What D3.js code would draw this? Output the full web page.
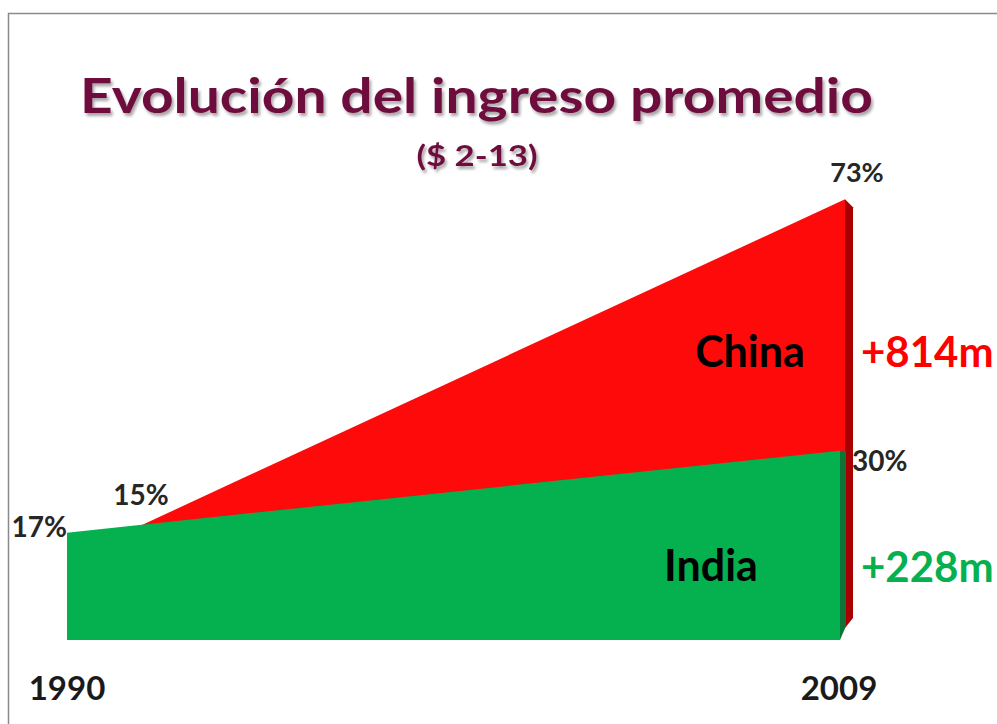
<!DOCTYPE html>
<html>
<head>
<meta charset="utf-8">
<script src="https://cdn.jsdelivr.net/npm/d3@7"></script>
<style>
  html, body { margin: 0; padding: 0; background: #fff; }
  svg { display: block; }
  text { font-family: Lato, "Open Sans", sans-serif; font-weight: bold; }
</style>
</head>
<body>
<svg id="chart" width="997" height="724"></svg>
<script>
// ---- data ----
const years = [1990, 2009];
const chinaValues = [15, 73];   // % (rear series)
const indiaValues = [17, 30];   // % (front series)
const seriesNames = ["China", "India"];
const growthLabels = ["+814m", "+228m"];
const titleText = "Evolución del ingreso promedio";
const subtitleText = "($ 2-13)";

const svg = d3.select("#chart");

// frame
svg.append("path")
  .attr("d", "M8.5,724 L8.5,13.5 L997,13.5")
  .attr("fill", "none").attr("stroke", "#8a8a8a").attr("stroke-width", 1.5);

// scales (front row and rear row of the 3D area chart)
const xFront = d3.scaleLinear().domain(d3.extent(years)).range([67, 840]);
const xBack  = d3.scaleLinear().domain(d3.extent(years)).range([72, 845]);
const yFront = d3.scaleLinear().domain([0, 80]).range([640, 135]);
const yBack  = d3.scaleLinear().domain([0, 80]).range([650, 156]);
const depth = 8;

const china = years.map((y, i) => ({ year: y, v: chinaValues[i] }));
const india = years.map((y, i) => ({ year: y, v: indiaValues[i] }));

const red = "#fe0a0a", redSide = "#a80000";
const green = "#05b04f", greenSide = "#0b7436";

// rear series: China
svg.append("path").datum(china)
  .attr("fill", red)
  .attr("d", d3.area().x(d => xBack(d.year)).y0(625).y1(d => yBack(d.v)));
const cx = xBack(2009), cy = yBack(73);
svg.append("path")
  .attr("fill", redSide)
  .attr("d", d3.line()([[cx, cy], [cx + depth, cy + 8], [cx + depth, 618], [cx, 628]]) + "Z");

// front series: India
svg.append("path").datum(india)
  .attr("fill", green)
  .attr("d", d3.area().x(d => xFront(d.year)).y0(yFront(0)).y1(d => yFront(d.v)));
const gx = xFront(2009), gy = yFront(30);
svg.append("path")
  .attr("fill", greenSide)
  .attr("d", d3.line()([[gx, gy], [gx + 6, gy], [gx + 6, 626], [gx, yFront(0)]]) + "Z");

// title with shadow
const defs = svg.append("defs");
const f = defs.append("filter").attr("id", "shadow").attr("x", "-5%").attr("y", "-20%").attr("width", "110%").attr("height", "150%");
f.append("feDropShadow").attr("dx", 2).attr("dy", 3).attr("stdDeviation", 1.5).attr("flood-color", "#000").attr("flood-opacity", 0.35);

svg.append("text").text(titleText)
  .attr("x", 80).attr("y", 113)
  .attr("font-size", 48).attr("fill", "#6e0f3d")
  .attr("textLength", 793).attr("lengthAdjust", "spacingAndGlyphs")
  .attr("filter", "url(#shadow)");
svg.append("text").text(subtitleText)
  .attr("x", 477).attr("y", 166).attr("text-anchor", "middle")
  .attr("font-size", 28).attr("fill", "#6e0f3d")
  .attr("textLength", 121).attr("lengthAdjust", "spacingAndGlyphs")
  .attr("filter", "url(#shadow)");

const dark = "#262626";
// value labels
svg.append("text").text(chinaValues[1] + "%")
  .attr("x", cx + 12).attr("y", 182).attr("text-anchor", "middle")
  .attr("font-size", 27).attr("fill", dark);
svg.append("text").text(chinaValues[0] + "%")
  .attr("x", 141).attr("y", 505).attr("text-anchor", "middle")
  .attr("font-size", 28).attr("fill", dark);
svg.append("text").text(indiaValues[0] + "%")
  .attr("x", 67).attr("y", yFront(17) + 4).attr("text-anchor", "end")
  .attr("font-size", 28).attr("fill", dark);
svg.append("text").text(indiaValues[1] + "%")
  .attr("x", 852).attr("y", gy + 20).attr("text-anchor", "start")
  .attr("font-size", 28).attr("fill", dark);

// series names
svg.append("text").text(seriesNames[0])
  .attr("x", 750).attr("y", 367).attr("text-anchor", "middle")
  .attr("font-size", 43).attr("fill", "#000");
svg.append("text").text(seriesNames[1])
  .attr("x", 711).attr("y", 581).attr("text-anchor", "middle")
  .attr("font-size", 43).attr("fill", "#000");

// growth labels (kept fully inside the window)
svg.append("text").text(growthLabels[0])
  .attr("x", 861).attr("y", 367)
  .attr("font-size", 42).attr("fill", "#ff0000");
svg.append("text").text(growthLabels[1])
  .attr("x", 861).attr("y", 582)
  .attr("font-size", 42).attr("fill", "#05b04f");

// year axis labels
svg.append("text").text(years[0])
  .attr("x", 67).attr("y", 700).attr("text-anchor", "middle")
  .attr("font-size", 33).attr("fill", "#1a1a1a");
svg.append("text").text(years[1])
  .attr("x", 839).attr("y", 700).attr("text-anchor", "middle")
  .attr("font-size", 33).attr("fill", "#1a1a1a");
</script>
</body>
</html>
